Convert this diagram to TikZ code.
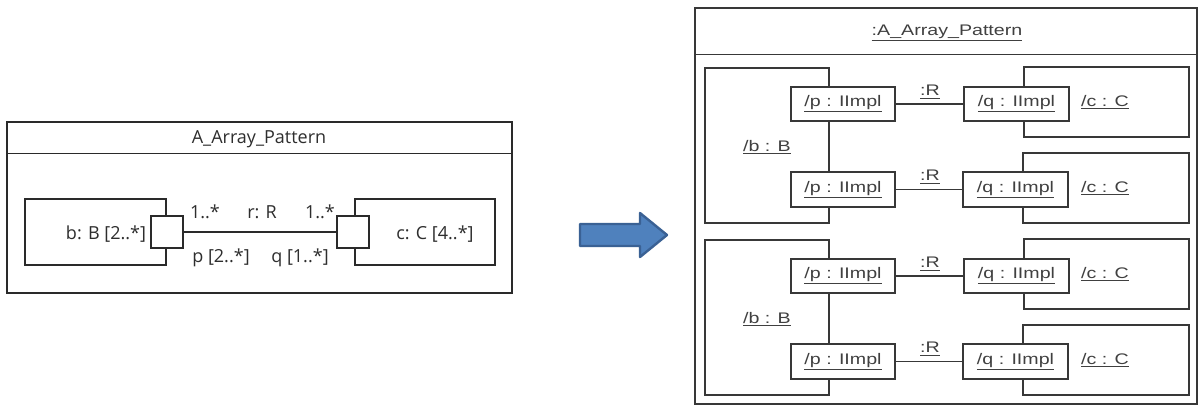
\documentclass[tikz,border=0pt]{standalone}
\usepackage{fontspec}
\setmainfont{Open Sans}
\newfontfamily\rfont[FakeStretch=1.28]{Liberation Sans}
\usetikzlibrary{fit}
\definecolor{linec}{HTML}{2A2A2A}
\definecolor{linecR}{HTML}{383838}
\definecolor{txtL}{HTML}{2E2E2E}
\definecolor{txtR}{HTML}{404040}
\definecolor{arrfill}{HTML}{4F81BD}
\definecolor{arrline}{HTML}{3A6194}
\begin{document}
\begin{tikzpicture}[x=0.75pt,y=-0.75pt,
  boxL/.style={draw=linec, line width=1.1pt, inner sep=0pt, fill=white},
  boxR/.style={draw=linecR, line width=1pt, inner sep=0pt, fill=white},
  lblL/.style={text=txtL, inner sep=0pt, font=\fontsize{13.5}{16}\selectfont},
  lblR/.style={text=txtR, inner sep=0pt, font=\rfont\fontsize{11.5}{13}\selectfont},
  conL/.style={draw=linec, line width=1.1pt},
  conR/.style={draw=linecR, line width=1pt}]
\useasboundingbox (0,0) rectangle (1198,407);
\fill[white] (0,0) rectangle (1198,407);
% ---------------- left diagram ----------------
\node[boxL, fit={(7,122) (512,293)}] (frameL) {};
\draw[conL] ([yshift=-24pt]frameL.north west) -- ([yshift=-24pt]frameL.north east);
\node[lblL] (titleL) at (259,139) {A\_Array\_Pattern};
\node[boxL, fit={(25,199) (166,265)}] (bL) {};
\node[boxL, fit={(355,199) (495,265)}] (cL) {};
\node[boxL, fit={(151,216) (183,248)}] (pL) {};
\node[boxL, fit={(337,216) (369,248)}] (qL) {};
\draw[conL] (pL.east) -- (qL.west);
\node[lblL] (bLt) at (106,234) {b: B [2..*]};
\node[lblL] (cLt) at (435,234) {c: C [4..*]};
\node[lblL] (m1) at (205,212) {1..*};
\node[lblL] (rR) at (262,212) {r: R};
\node[lblL] (m2) at (320,212) {1..*};
\node[lblL] (pLt) at (221,258) {p [2..*]};
\node[lblL] (qLt) at (300,258) {q [1..*]};
% ---------------- block arrow ----------------
\filldraw[fill=arrfill, draw=arrline, line width=1.8pt, line join=round]
  (580,224) -- (640,224) -- (640,213) -- (667,235) -- (640,257) -- (640,246) -- (580,246) -- cycle;
% ---------------- right diagram ----------------
\node[boxR, fit={(695,8) (1197,404)}] (frameR) {};
\draw[conR] ([yshift=-35.25pt]frameR.north west) -- ([yshift=-35.25pt]frameR.north east);
\node[lblR] (titleR) at (947,33) {\underline{:A\_Array\_Pattern}};
\foreach \i/\dy in {1/0,2/172}{
  \begin{scope}[yshift=-\dy*0.75pt]
  \node[boxR, fit={(705,68) (829,223)}] (b\i) {};
  \node[boxR, fit={(1024,67) (1189,137)}] (ca\i) {};
  \node[boxR, fit={(1023,153) (1189,223)}] (cb\i) {};
  \node[boxR, fit={(791,87) (895,121)}] (pa\i) {};
  \node[boxR, fit={(791,172) (895,207)}] (pb\i) {};
  \node[boxR, fit={(964,87) (1069,121)}] (qa\i) {};
  \node[boxR, fit={(963,172) (1068,207)}] (qb\i) {};
  \draw[conR] (pa\i.east) -- (qa\i.west);
  \draw[conR] (pb\i.east) -- (qb\i.west);
  \node[lblR] (pat\i) at (pa\i) {\underline{/p : IImpl}};
  \node[lblR] (pbt\i) at (pb\i) {\underline{/p : IImpl}};
  \node[lblR] (qat\i) at (qa\i) {\underline{/q : IImpl}};
  \node[lblR] (qbt\i) at (qb\i) {\underline{/q : IImpl}};
  \node[lblR] (ra\i) at (930,92) {\underline{:R}};
  \node[lblR] (rb\i) at (930,177) {\underline{:R}};
  \node[lblR] (bt\i) at (767,147) {\underline{/b : B}};
  \node[lblR] (cat\i) at (1105,102) {\underline{/c : C}};
  \node[lblR] (cbt\i) at (1105,188) {\underline{/c : C}};
  \end{scope}
}
\end{tikzpicture}
\end{document}
